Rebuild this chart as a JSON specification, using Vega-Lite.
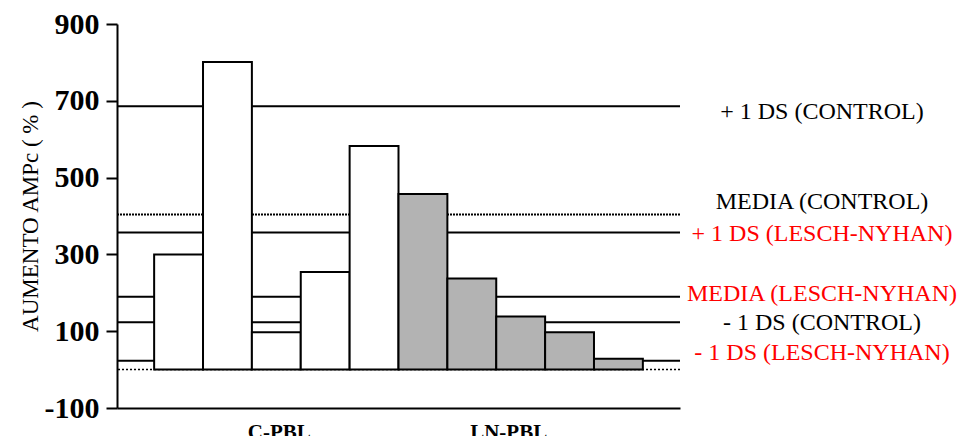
{
  "$schema": "https://vega.github.io/schema/vega-lite/v6.json",
  "autosize": "none",
  "width": 563,
  "height": 384,
  "padding": {"left": 117, "top": 24, "right": 282, "bottom": 28},
  "background": "white",
  "config": {"view": {"stroke": null}, "font": "Liberation Serif"},
  "datasets": {
    "bars": [
      {"sample": 1, "group": "C-PBL", "value": 300},
      {"sample": 2, "group": "C-PBL", "value": 801},
      {"sample": 3, "group": "C-PBL", "value": 97},
      {"sample": 4, "group": "C-PBL", "value": 254},
      {"sample": 5, "group": "C-PBL", "value": 582},
      {"sample": 6, "group": "LN-PBL", "value": 457},
      {"sample": 7, "group": "LN-PBL", "value": 237},
      {"sample": 8, "group": "LN-PBL", "value": 138},
      {"sample": 9, "group": "LN-PBL", "value": 97},
      {"sample": 10, "group": "LN-PBL", "value": 28}
    ],
    "refs": [
      {"label": "+ 1 DS (CONTROL)", "grupo": "CONTROL", "value": 686},
      {"label": "MEDIA (CONTROL)", "grupo": "CONTROL", "value": 404},
      {"label": "+ 1 DS (LESCH-NYHAN)", "grupo": "LESCH-NYHAN", "value": 357},
      {"label": "MEDIA (LESCH-NYHAN)", "grupo": "LESCH-NYHAN", "value": 190},
      {"label": "- 1 DS (CONTROL)", "grupo": "CONTROL", "value": 123},
      {"label": "- 1 DS (LESCH-NYHAN)", "grupo": "LESCH-NYHAN", "value": 23}
    ]
  },
  "layer": [
    {
      "data": {"name": "refs"},
      "mark": {"type": "rule", "color": "black", "strokeWidth": 2},
      "encoding": {
        "y": {
          "field": "value", "type": "quantitative",
          "scale": {"domain": [-100, 900], "nice": false, "zero": false},
          "axis": {
            "title": "AUMENTO AMPc ( % )",
            "titleFont": "Liberation Serif",
            "titleFontSize": 23,
            "titleFontWeight": "normal",
            "titleColor": "black",
            "titlePadding": 2,
            "values": [-100, -50, 0, 50, 100, 150, 200, 250, 300, 350, 400, 450, 500, 550, 600, 650, 700, 750, 800, 850, 900],
            "labelExpr": "(datum.value + 100) % 200 == 0 ? (datum.value < 0 ? '-' + abs(datum.value) : datum.label) : ''",
            "grid": false,
            "domainColor": "black",
            "domainWidth": 2,
            "tickColor": "black",
            "tickWidth": 2,
            "tickSize": {"condition": {"test": "(datum.value + 100) % 200 == 0", "value": 11}, "value": 4},
            "labelFont": "Liberation Serif",
            "labelFontSize": 30,
            "labelFontWeight": "bold",
            "labelColor": "black",
            "labelPadding": 7
          }
        },
        "strokeDash": {"condition": {"test": "datum.label == 'MEDIA (CONTROL)'", "value": [2, 1]}, "value": [1, 0]}
      }
    },
    {
      "data": {"values": [{"base": 0}]},
      "mark": {"type": "rule", "color": "black", "strokeWidth": 1.5, "strokeDash": [2, 2]},
      "encoding": {
        "y": {"field": "base", "type": "quantitative"}
      }
    },
    {
      "data": {"name": "refs"},
      "mark": {"type": "text", "font": "Liberation Serif", "fontSize": 24, "align": "center", "baseline": "middle", "dx": 142,
        "dy": {"expr": "datum.label == 'MEDIA (CONTROL)' ? -12 : datum.label == '+ 1 DS (CONTROL)' ? 6 : datum.label == '- 1 DS (LESCH-NYHAN)' ? -8 : datum.label == 'MEDIA (LESCH-NYHAN)' ? -3 : 1"}},
      "encoding": {
        "x": {"value": "width"},
        "y": {"field": "value", "type": "quantitative"},
        "text": {"field": "label"},
        "color": {"field": "grupo", "type": "nominal", "scale": {"domain": ["CONTROL", "LESCH-NYHAN"], "range": ["black", "#ff0000"]}, "legend": null}
      }
    },
    {
      "data": {"name": "bars"},
      "mark": {"type": "bar", "stroke": "black", "strokeWidth": 2},
      "encoding": {
        "x": {
          "field": "sample", "type": "ordinal",
          "scale": {"paddingInner": 0, "paddingOuter": 0.76},
          "axis": {
            "title": null,
            "values": [3, 8],
            "labelExpr": "datum.value == 3 ? 'C-PBL' : 'LN-PBL'",
            "ticks": false,
            "domainColor": "black",
            "domainWidth": 2,
            "labelFont": "Liberation Serif",
            "labelFontSize": 21,
            "labelFontWeight": "bold",
            "labelColor": "black",
            "labelAngle": 0,
            "labelBaseline": "alphabetic",
            "labelPadding": 30,
            "labelOffset": {"condition": {"test": "datum.value == 8", "value": -12}, "value": 3}
          }
        },
        "y": {"field": "value", "type": "quantitative"},
        "fill": {"field": "group", "type": "nominal", "scale": {"domain": ["C-PBL", "LN-PBL"], "range": ["white", "#b3b3b3"]}, "legend": null}
      }
    }
  ]
}
